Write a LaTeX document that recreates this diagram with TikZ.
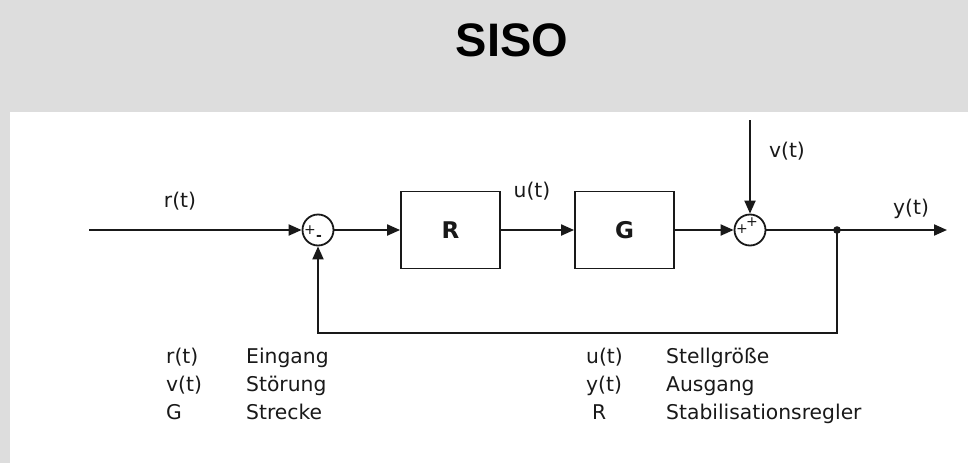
\documentclass[tikz,border=0pt]{standalone}
\usepackage{fontspec}
\setmainfont{DejaVu Sans}
\newfontfamily\titlefont{Liberation Sans}
\usetikzlibrary{arrows.meta}
\definecolor{bggrey}{RGB}{221,221,221}
\definecolor{ink}{RGB}{25,25,25}
\begin{document}
\begin{tikzpicture}[x=1pt,y=-1pt,
  lbl/.style={inner sep=0pt,anchor=base,font=\fontsize{20.3}{24}\selectfont,text=ink},
  lgd/.style={inner sep=0pt,anchor=base west,font=\fontsize{20.3}{24}\selectfont,text=ink},
  blockbox/.style={draw=ink,line width=1.8pt,minimum width=99pt,minimum height=77pt,inner sep=0pt,font=\fontsize{23}{26}\selectfont\bfseries,text=ink},
  sumc/.style={draw=ink,line width=1.8pt,circle,minimum size=31pt,inner sep=0pt},
  sgn/.style={inner sep=0pt,font=\fontsize{14}{14}\selectfont,text=ink},
  wire/.style={draw=ink,line width=2pt},
  flow/.style={wire,-{Triangle[length=13pt,width=11pt]}}]
\fill[bggrey] (0,0) rectangle (968,463);
\fill[white] (10,112) rectangle (968,463);
\useasboundingbox (0,0) rectangle (968,463);
\node[inner sep=0pt] (title) at (512,40) {\titlefont\fontsize{47}{50}\selectfont\bfseries SISO};
% blocks
\node[sumc] (s1) at (318,230) {};
\node[sgn] (s1p) at (310,230) {+};
\node[sgn] (s1m) at (319,238) {\bfseries -};
\node[blockbox] (R) at (450.5,230) {R};
\node[blockbox] (G) at (624.5,230) {G};
\node[sumc] (s2) at (750,230) {};
\node[sgn] (s2p1) at (742,229) {+};
\node[sgn] (s2p2) at (752,222) {+};
\fill[ink] (837,230) circle (3.8pt);
\coordinate (dot) at (837,230);
\coordinate (in) at (89,230);
\coordinate (out) at (947,230);
\coordinate (vtop) at (750,120);
\coordinate (fbc) at (837,333);
% connectors
\draw[flow] (in) -- (s1.west);
\draw[flow] (s1.east) -- (R.west);
\draw[flow] (R.east) -- (G.west);
\draw[flow] (G.east) -- (s2.west);
\draw[flow] (vtop) -- (s2.north);
\draw[wire] (s2.east) -- (dot);
\draw[flow] (dot) -- (out);
\draw[flow] (dot) -- (fbc) -| (s1.south);
% signal labels
\node[lbl] (lr) at (180,207) {r(t)};
\node[lbl] (lu) at (532,197) {u(t)};
\node[lbl] (lv) at (787,157) {v(t)};
\node[lbl] (ly) at (911,214) {y(t)};
% legend
\node[lgd] (k1) at (166,363) {r(t)};
\node[lgd] (d1) at (246,363) {Eingang};
\node[lgd] (k2) at (166,391) {v(t)};
\node[lgd] (d2) at (246,391) {Störung};
\node[lgd] (k3) at (166,419) {G};
\node[lgd] (d3) at (246,419) {Strecke};
\node[lgd] (k4) at (586,363) {u(t)};
\node[lgd] (d4) at (666,363) {Stellgröße};
\node[lgd] (k5) at (586,391) {y(t)};
\node[lgd] (d5) at (666,391) {Ausgang};
\node[lgd] (k6) at (592,419) {R};
\node[lgd] (d6) at (666,419) {Stabilisationsregler};
\end{tikzpicture}
\end{document}
